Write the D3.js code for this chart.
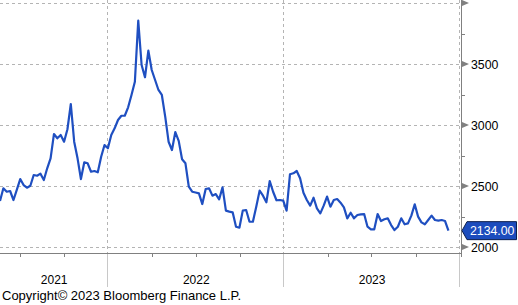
<!DOCTYPE html>
<html>
<head>
<meta charset="utf-8">
<script src="https://cdn.jsdelivr.net/npm/d3@7"></script>
<style>
  body { margin: 0; background: #fff; }
  text { font-family: "Liberation Sans", Arial, sans-serif; }
</style>
</head>
<body>
<div id="chart"></div>
<script>
// weekly closes, first week ending 2021-05-21
const firstWeek = "2021-05-21";
const values = [
  2378, 2481, 2453, 2459, 2385, 2470, 2557, 2508, 2486, 2502,
  2590, 2584, 2601, 2549, 2645, 2727, 2926, 2891, 2918, 2863,
  2965, 3172, 2863, 2727, 2557, 2694, 2686, 2617, 2623, 2612,
  2740, 2836, 2809, 2918, 2973, 3041, 3076, 3076, 3145, 3246,
  3355, 3855, 3492, 3391, 3610, 3451, 3369, 3287, 3246, 3068,
  2863, 2795, 2942, 2870, 2719, 2686, 2494, 2453, 2447, 2440,
  2352, 2475, 2481, 2421, 2434, 2391, 2489, 2298, 2290, 2284,
  2166, 2158, 2298, 2303, 2207, 2207, 2330, 2462, 2421, 2366,
  2541, 2453, 2383, 2385, 2380, 2298, 2596, 2604, 2623, 2563,
  2445, 2385, 2339, 2404, 2317, 2276, 2339, 2413, 2330, 2385,
  2393, 2363, 2325, 2235, 2281, 2235, 2262, 2268, 2270, 2166,
  2145, 2145, 2270, 2213, 2227, 2235, 2180, 2139, 2166, 2235,
  2186, 2194, 2257, 2350, 2249, 2202, 2186, 2221, 2257, 2221,
  2216, 2221, 2213, 2134
];
const yMajor = [2000, 2500, 3000, 3500, 4000];
const yMinor = [2250, 2750, 3250, 3750];
const yLabels = ["2000", "2500", "3000", "3500"];
const years = ["2021", "2022", "2023"];
const lastLabel = "2134.00";
const copyright = "Copyright\u00a9 2023 Bloomberg Finance L.P.";

const W = 518, H = 305;
const svg = d3.select("#chart").append("svg")
    .attr("width", W)
    .attr("height", H);

const parse = d3.timeParse("%Y-%m-%d");
const start = parse(firstWeek);
const data = values.map((v, i) => ({ date: d3.timeWeek.offset(start, i), value: v }));

const x = d3.scaleTime()
    .domain([start, parse("2024-01-01")])
    .range([0, 460]);
const y = d3.scaleLinear()
    .domain([2000, 4000])
    .range([247, 3]);

const axisX = 461, baseY = 253;

// horizontal grid
svg.append("g").selectAll("line")
    .data(yMajor)
    .enter().append("line")
    .attr("x1", 0).attr("x2", axisX)
    .attr("y1", d => Math.round(y(d)) + 0.5)
    .attr("y2", d => Math.round(y(d)) + 0.5)
    .attr("stroke", "#b4b4b4")
    .attr("stroke-dasharray", "3,3");

// vertical year grid
const yearStarts = x.ticks(d3.timeYear).filter(d => x(d) > 1);
svg.append("g").selectAll("line")
    .data(yearStarts)
    .enter().append("line")
    .attr("x1", d => Math.round(x(d)) - 0.5)
    .attr("x2", d => Math.round(x(d)) - 0.5)
    .attr("y1", 0).attr("y2", baseY)
    .attr("stroke", "#b4b4b4")
    .attr("stroke-dasharray", "3,3");

// year separators below the axis
svg.append("g").selectAll("line")
    .data(yearStarts)
    .enter().append("line")
    .attr("x1", d => Math.round(x(d)) - 0.5)
    .attr("x2", d => Math.round(x(d)) - 0.5)
    .attr("y1", baseY).attr("y2", 287)
    .attr("stroke", "#c8c8c8");

// quarter ticks
const quarters = x.ticks(d3.timeMonth.every(3)).filter(d => d.getMonth() !== 0);
svg.append("g").selectAll("line")
    .data(quarters)
    .enter().append("line")
    .attr("x1", d => Math.round(x(d)) + 0.5)
    .attr("x2", d => Math.round(x(d)) + 0.5)
    .attr("y1", baseY).attr("y2", baseY + 4)
    .attr("stroke", "#808080");

// axes lines
svg.append("line")
    .attr("x1", 0).attr("x2", axisX + 0.5)
    .attr("y1", baseY + 0.5).attr("y2", baseY + 0.5)
    .attr("stroke", "#808080");
svg.append("line")
    .attr("x1", axisX + 0.5).attr("x2", axisX + 0.5)
    .attr("y1", 0).attr("y2", baseY + 4)
    .attr("stroke", "#808080");

// year labels centred on visible part of each year
const bounds = [0].concat(yearStarts.map(d => x(d)));
svg.append("g").selectAll("text")
    .data(years)
    .enter().append("text")
    .attr("x", (d, i) => (bounds[i] + bounds[i + 1]) / 2)
    .attr("y", 284)
    .attr("text-anchor", "middle")
    .attr("font-size", 12)
    .text(d => d);

// right axis ticks
svg.append("g").selectAll("path")
    .data(yMajor)
    .enter().append("path")
    .attr("d", d => {
        const yy = y(d);
        return `M${axisX + 1},${yy - 3} L${axisX + 8},${yy} L${axisX + 1},${yy + 3} Z`;
    })
    .attr("fill", "#808080");
svg.append("g").selectAll("line")
    .data(yMinor)
    .enter().append("line")
    .attr("x1", axisX + 1).attr("x2", axisX + 4)
    .attr("y1", d => Math.round(y(d)) + 0.5)
    .attr("y2", d => Math.round(y(d)) + 0.5)
    .attr("stroke", "#808080");
svg.append("g").selectAll("text")
    .data(yLabels)
    .enter().append("text")
    .attr("x", 471)
    .attr("y", d => y(+d) + 4.5)
    .attr("font-size", 12.3)
    .text(d => d);

// series
const line = d3.line()
    .x(d => x(d.date))
    .y(d => y(d.value));
svg.append("path")
    .datum(data)
    .attr("d", line)
    .attr("fill", "none")
    .attr("stroke", "#1f4fc1")
    .attr("stroke-width", 2.2)
    .attr("stroke-linejoin", "round");

// last value flag
const ly = y(values[values.length - 1]);
svg.append("path")
    .attr("d", `M462,${ly} L467,${ly - 9} L516.5,${ly - 9} L516.5,${ly + 9} L467,${ly + 9} Z`)
    .attr("fill", "#1c4cbd")
    .attr("stroke", "#0d1f4d")
    .attr("stroke-width", 1);
svg.append("text")
    .attr("x", 470)
    .attr("y", ly + 4.5)
    .attr("font-size", 12.3)
    .attr("fill", "#fff")
    .text(lastLabel);

// copyright
svg.append("text")
    .attr("x", 2)
    .attr("y", 300)
    .attr("font-size", 13)
    .text(copyright);
</script>
</body>
</html>
